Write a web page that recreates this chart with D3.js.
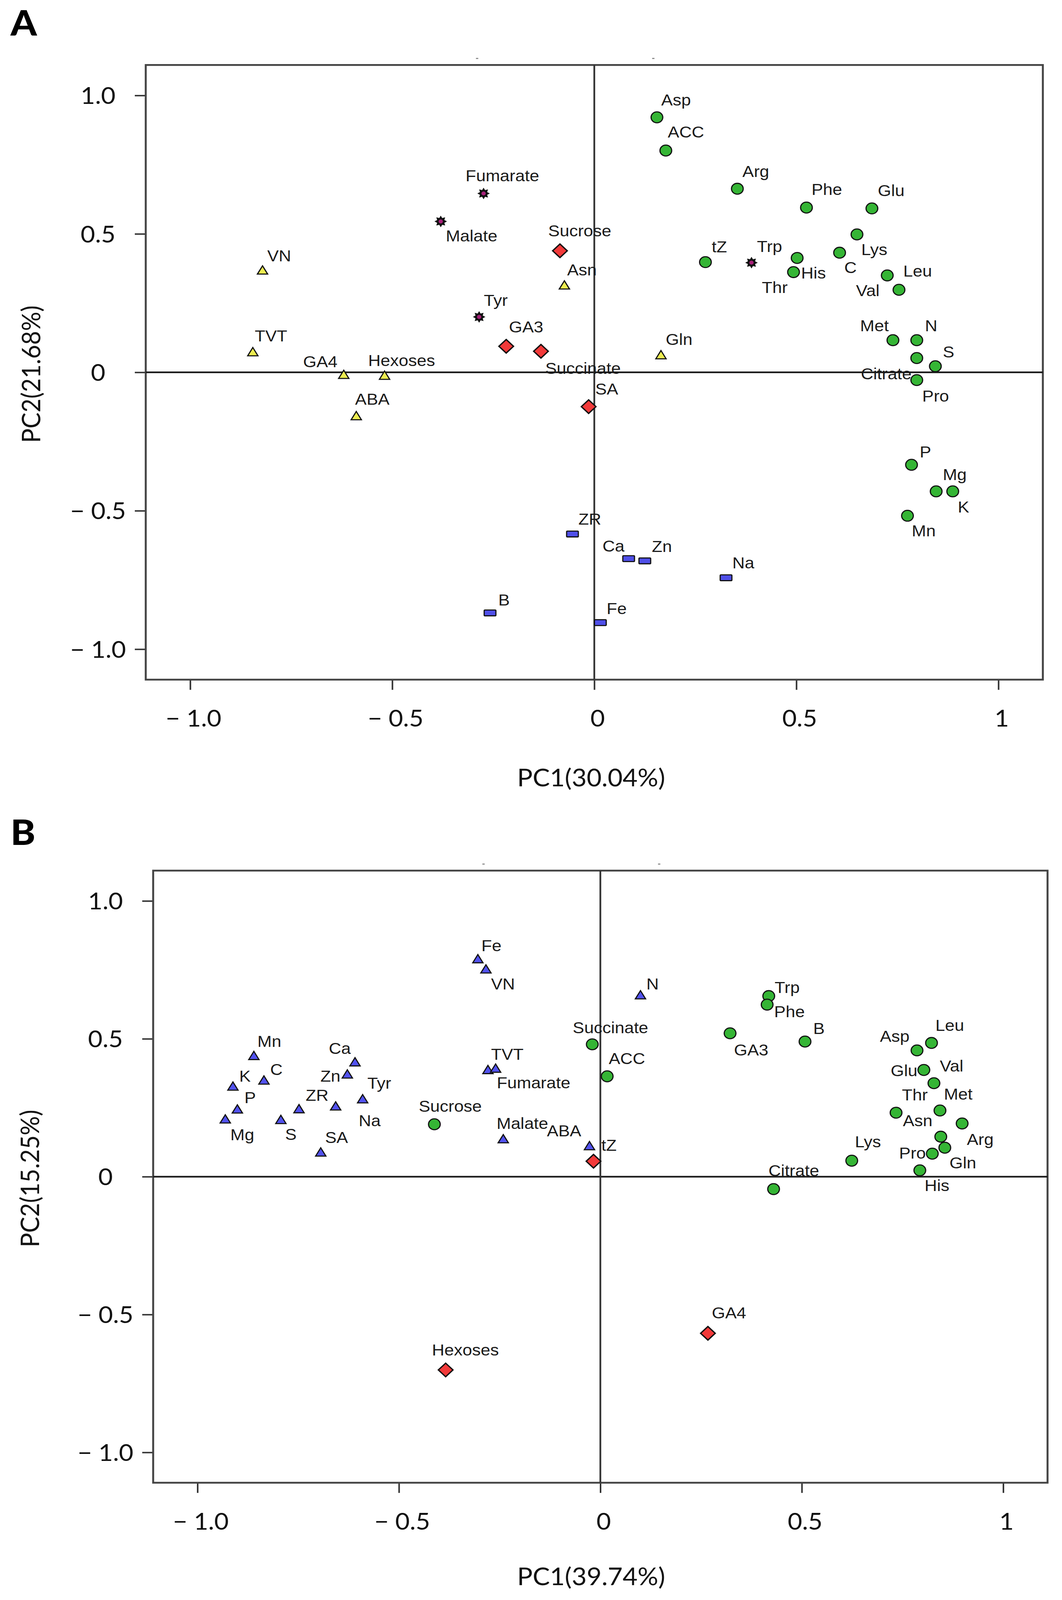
<!DOCTYPE html>
<html>
<head>
<meta charset="utf-8">
<script src="https://cdn.jsdelivr.net/npm/d3@7"></script>
<style>
  html, body { margin: 0; padding: 0; background: #fff; overflow: hidden; }
  svg { display: block; }
</style>
</head>
<body>
<svg id="chart"></svg>
<script>
// ---------------- DATA ----------------
// Panel A
const namesA = ["Asp","ACC","Arg","Phe","Glu","Lys","C","His","Thr","tZ","Trp","Leu","Val","Met","N","Citrate","S","Pro","P","Mg","K","Mn",
  "Fumarate","Malate","Tyr","VN","TVT","GA4","Hexoses","ABA","Asn","Gln","Sucrose","GA3","Succinate","SA","ZR","B","Fe","Ca","Zn","Na"];
const pc1A = [0.155,0.177,0.354,0.525,0.687,0.650,0.607,0.502,0.493,0.275,0.389,0.725,0.754,0.739,0.798,0.798,0.844,0.798,0.785,0.846,0.887,0.775,
  -0.274,-0.380,-0.285,-0.821,-0.845,-0.620,-0.519,-0.589,-0.074,0.165,-0.085,-0.218,-0.132,-0.014,-0.054,-0.258,0.015,0.085,0.125,0.326];
const pc2A = [0.921,0.801,0.663,0.595,0.592,0.498,0.432,0.413,0.362,0.398,0.396,0.350,0.298,0.116,0.116,0.0515,0.022,-0.028,-0.334,-0.430,-0.430,-0.518,
  0.646,0.545,0.200,0.366,0.071,-0.011,-0.014,-0.160,0.312,0.060,0.439,0.094,0.076,-0.124,-0.584,-0.869,-0.904,-0.673,-0.681,-0.742];
const groupA = ["g","g","g","g","g","g","g","g","g","g","s","g","g","g","g","g","g","g","g","g","g","g",
  "s","s","s","y","y","y","y","y","y","y","r","r","r","r","b","b","b","b","b","b"];

// Panel B
const namesB = ["Fe","VN","Mn","Ca","C","Zn","K","TVT","Fumarate","Tyr","P","ZR","Na","Mg","S","SA","Malate","ABA","N",
  "Sucrose","Succinate","ACC","Trp","Phe","GA3","B","Leu","Asp","Glu","Val","Met","Thr","Arg","Asn","Gln","Pro","His","Lys","Citrate",
  "tZ","Hexoses","GA4"];
const pc1B = [-0.304,-0.284,-0.860,-0.609,-0.835,-0.628,-0.912,-0.279,-0.260,-0.590,-0.901,-0.748,-0.657,-0.931,-0.793,-0.694,-0.241,-0.027,0.0996,
  -0.412,-0.020,0.017,0.418,0.414,0.322,0.508,0.822,0.786,0.803,0.828,0.843,0.734,0.898,0.845,0.855,0.824,0.793,0.624,0.430,
  -0.017,-0.384,0.267];
const pc2B = [0.787,0.750,0.436,0.413,0.347,0.369,0.325,0.385,0.390,0.279,0.242,0.243,0.253,0.206,0.204,0.086,0.134,0.109,0.656,
  0.190,0.480,0.364,0.655,0.624,0.520,0.490,0.485,0.458,0.387,0.339,0.240,0.232,0.193,0.145,0.105,0.0835,0.023,0.058,-0.045,
  0.056,-0.701,-0.568];
const groupB = ["t","t","t","t","t","t","t","t","t","t","t","t","t","t","t","t","t","t","t",
  "g","g","g","g","g","g","g","g","g","g","g","g","g","g","g","g","g","g","g","g",
  "r","r","r"];

// Axis ticks and titles
const tickValues = [-1, -0.5, 0, 0.5, 1];
const xTickLabels = ["\u2212 1.0", "\u2212 0.5", "0", "0.5", "1"];
const yTickLabels = ["\u2212 1.0", "\u2212 0.5", "0", "0.5", "1.0"];
const topMarkValues = [-0.29, 0.146];
const xTitleA = "PC1(30.04%)", yTitleA = "PC2(21.68%)";
const xTitleB = "PC1(39.74%)", yTitleB = "PC2(15.25%)";

// ---------------- LAYOUT (label offsets in px, relative to marker) ----------------
const labelOffA = {
  Asp:[11,-33], ACC:[5,-36], Arg:[13,-33], Phe:[13,-35], Glu:[15,-34], Lys:[11,57], C:[12,56], His:[10,57], Thr:[-81,57],
  tZ:[16,-27], Trp:[14,-29], Leu:[41,3], Val:[-110,17], Met:[-84,-25], N:[21,-25], Citrate:[-143,58], S:[19,-24], Pro:[14,59],
  P:[21,-20], Mg:[17,-31], K:[13,58], Mn:[11,57], Fumarate:[-46,-34], Malate:[13,55], Tyr:[12,-31], VN:[12,-27], TVT:[5,-31],
  GA4:[-104,-23], Hexoses:[-42,-28], ABA:[-3,-33], Asn:[7,-29], Gln:[12,-30], Sucrose:[-30,-40], GA3:[7,-38], Succinate:[11,62],
  SA:[17,-33], ZR:[15,-26], B:[21,-20], Fe:[16,-23], Ca:[-67,-19], Zn:[18,-25], Na:[16,-26]
};
const labelOffB = {
  Fe:[9,-23], VN:[13,54], Mn:[9,-26], Ca:[-67,-24], C:[16,-16], K:[16,-15], Zn:[-69,18], TVT:[8,-30], Fumarate:[3,53],
  Tyr:[12,-30], ZR:[17,-25], P:[18,-19], Na:[59,53], Mg:[13,56], S:[11,54], SA:[11,-27], Sucrose:[-40,-35], Malate:[-17,-30],
  ABA:[-109,-28], tZ:[20,-29], N:[15,-18], Succinate:[-50,-31], ACC:[4,-34], Trp:[15,-9], Phe:[18,35], GA3:[10,61], B:[21,-21],
  Leu:[10,-33], Asp:[-95,-24], Glu:[-85,17], Val:[15,-32], Thr:[15,-34], Met:[10,-30], Asn:[-97,-29], Arg:[12,59], Lys:[8,-37],
  Pro:[-85,14], Gln:[12,57], His:[12,57], Citrate:[-13,-36], Hexoses:[-35,-40], GA4:[10,-41]
};

const panels = [
  { letter:"A", names:namesA, pc1:pc1A, pc2:pc2A, group:groupA, off:labelOffA, xTitle:xTitleA, yTitle:yTitleA,
    left:373, right:2669, top:179, bottom:1872, letterY:98, xTitleY:2166, yTitleX:103 },
  { letter:"B", names:namesB, pc1:pc1B, pc2:pc2B, group:groupB, off:labelOffB, xTitle:xTitleB, yTitle:yTitleB,
    left:392, right:2681, top:2398, bottom:4084, letterY:2327, xTitleY:4366, yTitleX:100 }
];

// ---------------- STYLE ----------------
const TICK_FONT = "Lato, 'Open Sans', sans-serif";
const LABEL_FONT = "'Liberation Sans', Arial, sans-serif";
const colors = { g:"#35b535", r:"#f23a3a", y:"#ecec50", s:"#111", b:"#4f4fe8", t:"#5252ee" };

function starPath(ro, ri, n) {
  const pts = [];
  for (let i = 0; i < 2 * n; i++) {
    const a = i * Math.PI / n - Math.PI / 2;
    const r = i % 2 ? ri : ro;
    pts.push([r * Math.cos(a), r * Math.sin(a)]);
  }
  return "M" + pts.map(p => p[0].toFixed(2) + "," + p[1].toFixed(2)).join("L") + "Z";
}

// Fit the 2718x4407 drawing into whatever viewport the browser actually has
const VW = 2718, VH = 4407;
const winW = window.innerWidth || VW, winH = window.innerHeight || VH;
const svg = d3.select("#chart")
  .attr("width", winW).attr("height", winH)
  .attr("viewBox", `0 0 ${VW} ${VH}`)
  .attr("preserveAspectRatio", "none");
svg.append("rect").attr("width", VW).attr("height", VH).attr("fill", "#fff");

panels.forEach(P => {
  const x = d3.scaleLinear().domain([-1.11, 1.11]).range([P.left, P.right]);
  const y = d3.scaleLinear().domain([-1.11, 1.11]).range([P.bottom, P.top]);
  const g = svg.append("g");

  // panel letter
  g.append("text").attr("x", 27).attr("y", P.letterY)
    .attr("font-family", TICK_FONT).attr("font-weight", 900).attr("font-size", 96)
    .attr("fill", "#000").text(P.letter);

  // axes
  const xAxis = d3.axisBottom(x).tickValues(tickValues).tickSize(28).tickSizeOuter(0)
    .tickFormat((d, i) => xTickLabels[i]);
  const yAxis = d3.axisLeft(y).tickValues(tickValues).tickSize(28).tickSizeOuter(0)
    .tickFormat((d, i) => yTickLabels[i]);

  const gx = g.append("g").attr("transform", `translate(0,${P.bottom})`).call(xAxis);
  gx.select(".domain").remove();
  gx.selectAll(".tick line").attr("stroke", "#333").attr("stroke-width", 4);
  gx.selectAll(".tick text").attr("y", 129).attr("dy", 0).attr("dx", 8)
    .attr("font-family", TICK_FONT).attr("font-size", 64).attr("fill", "#111");

  const gy = g.append("g").attr("transform", `translate(${P.left},0)`).call(yAxis);
  gy.select(".domain").remove();
  gy.selectAll(".tick line").attr("stroke", "#333").attr("stroke-width", 4);
  gy.selectAll(".tick text").attr("x", -122).attr("dy", "0.36em").attr("text-anchor", "middle")
    .attr("font-family", TICK_FONT).attr("font-size", 64).attr("fill", "#111");

  // small marks above frame
  g.selectAll(".topmark").data(topMarkValues).enter().append("line")
    .attr("x1", d => x(d) - 3).attr("x2", d => x(d) + 3)
    .attr("y1", P.top - 18).attr("y2", P.top - 18)
    .attr("stroke", "#888").attr("stroke-width", 3);

  // frame
  g.append("rect").attr("x", P.left).attr("y", P.top)
    .attr("width", P.right - P.left).attr("height", P.bottom - P.top)
    .attr("fill", "none").attr("stroke", "#444").attr("stroke-width", 5);

  // zero lines
  g.append("line").attr("x1", P.left).attr("x2", P.right).attr("y1", y(0)).attr("y2", y(0))
    .attr("stroke", "#1a1a1a").attr("stroke-width", 4.5);
  g.append("line").attr("x1", x(0)).attr("x2", x(0)).attr("y1", P.top).attr("y2", P.bottom)
    .attr("stroke", "#333").attr("stroke-width", 4.5);

  // axis titles
  g.append("text").attr("x", 1513).attr("y", P.xTitleY).attr("text-anchor", "middle")
    .attr("font-family", TICK_FONT).attr("font-size", 66).attr("fill", "#111").text(P.xTitle);
  g.append("text").attr("transform", `translate(${P.yTitleX},${y(0) + 5}) rotate(-90)`)
    .attr("text-anchor", "middle")
    .attr("font-family", TICK_FONT).attr("font-size", 66).attr("fill", "#111").text(P.yTitle);

  // points
  const data = P.names.map((n, i) => ({ name: n, v1: P.pc1[i], v2: P.pc2[i], grp: P.group[i] }));
  const pts = g.append("g").selectAll("g").data(data).enter().append("g")
    .attr("transform", d => `translate(${x(d.v1)},${y(d.v2)})`);

  pts.each(function(d) {
    const s = d3.select(this);
    if (d.grp === "g") {
      s.append("circle").attr("r", 15).attr("fill", colors.g).attr("stroke", "#111").attr("stroke-width", 3);
    } else if (d.grp === "r") {
      s.append("path").attr("d", d3.symbol(d3.symbolSquare, 700)()).attr("transform", "rotate(45)")
        .attr("fill", colors.r).attr("stroke", "#111").attr("stroke-width", 3.5);
    } else if (d.grp === "y" || d.grp === "t") {
      s.append("path").attr("d", d3.symbol(d3.symbolTriangle, 300)()).attr("transform", "translate(0,1)")
        .attr("fill", colors[d.grp]).attr("stroke", "#111").attr("stroke-width", 3);
    } else if (d.grp === "s") {
      s.append("path").attr("d", starPath(16, 10, 8)).attr("fill", colors.s);
      s.append("circle").attr("r", 5.5).attr("fill", "#a8217a");
    } else if (d.grp === "b") {
      s.append("rect").attr("x", -15).attr("y", -8).attr("width", 30).attr("height", 16).attr("rx", 2)
        .attr("fill", colors.b).attr("stroke", "#111").attr("stroke-width", 3);
    }
  });

  // labels
  g.append("g").selectAll("text").data(data).enter().append("text")
    .attr("x", d => x(d.v1) + P.off[d.name][0])
    .attr("y", d => y(d.v2) + P.off[d.name][1])
    .attr("font-family", LABEL_FONT).attr("font-size", 44).attr("fill", "#1a1a1a")
    .text(d => d.name);
});
</script>
</body>
</html>
